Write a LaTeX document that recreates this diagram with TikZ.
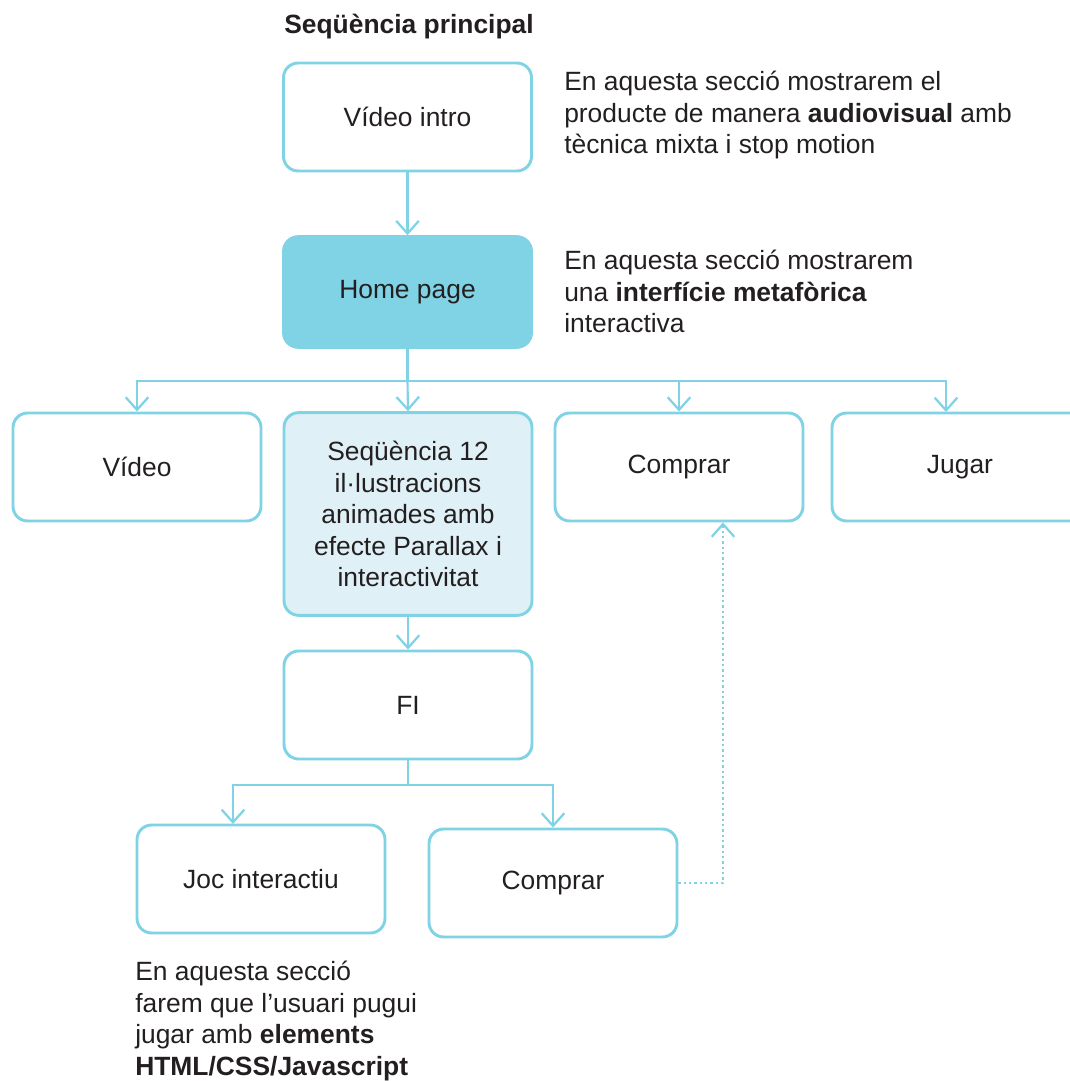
\documentclass[tikz,border=0pt]{standalone}
\usepackage{fontspec}
\setmainfont{Liberation Sans}
\usetikzlibrary{arrows.meta}
\definecolor{cyanline}{HTML}{80D3E4}
\definecolor{palefill}{HTML}{DFF1F7}
\definecolor{ink}{HTML}{231F20}
\begin{document}
\begin{tikzpicture}[x=0.75pt,y=-0.75pt,
  txt/.style={text=ink, font=\fontsize{19.8}{23.6}\selectfont},
  box/.style={txt, draw=cyanline, line width=2.2pt, rounded corners=11pt,
    minimum width=186pt, minimum height=81pt, inner sep=0pt, align=center},
  tip/.style={-{Straight Barb[length=9.5pt,width=17pt,line width=1.7pt]}},
  link/.style={draw=cyanline, line width=1.6pt},
  arrowlink/.style={link, tip},
  dotlink/.style={draw=cyanline, line width=1.8pt, dash pattern=on 1.6pt off 2.4pt, tip},
  note/.style={txt, align=left, inner sep=0pt, anchor=north west}
]
\useasboundingbox (0,0) rectangle (1070,1081);
\clip (0,0) rectangle (1070,1081);

% title
\node[txt, font=\fontsize{19.8}{23.6}\selectfont\bfseries, anchor=base] (title) at (409,34) {Seqüència principal};

% main sequence boxes
\node[box] (intro) at (407.5,117) {Vídeo intro};
\node[box, fill=cyanline, minimum height=83pt] (home) at (407.5,292) {Home page};
\node[box] (vid) at (137,467) {Vídeo};
\node[box, fill=palefill, minimum height=152pt] (seq) at (408,514)
  {Seqüència 12\\il·lustracions\\animades amb\\efecte Parallax i\\interactivitat};
\node[box] (comp) at (679,467) {Comprar};
\node[box, minimum width=192pt] (jugar) at (960,467) {Jugar};
\node[box] (fi) at (408,705) {FI};
\node[box] (joc) at (261,879) {Joc interactiu};
\node[box] (comp2) at (553,883) {Comprar};

% side notes
\node[note] (n1) at (564,71) {En aquesta secció mostrarem el\\producte de manera \textbf{audiovisual} amb\\tècnica mixta i stop motion};
\node[note] (n2) at (564,250) {En aquesta secció mostrarem\\una \textbf{interfície metafòrica}\\interactiva};
\node[note] (n3) at (135,961) {En aquesta secció\\farem que l’usuari pugui\\jugar amb \textbf{elements}\\\textbf{HTML/CSS/Javascript}};

% connectors
\coordinate (hb) at (407.5,381);
\coordinate (fb) at (408,785);
\coordinate (jugarin) at (946,412);
\coordinate (jocin) at (233,824);
\coordinate (dt) at (723,0);

\draw[arrowlink] (intro) -- (home);
\draw[link] (home.south) -- (hb);
\draw[arrowlink] (hb) -| (vid.north);
\draw[arrowlink] (hb) -- (seq.north);
\draw[arrowlink] (hb) -| (comp.north);
\draw[arrowlink] (hb) -| (jugarin);
\draw[arrowlink] (seq) -- (fi);
\draw[link] (fi.south) -- (fb);
\draw[arrowlink] (fb) -| (jocin);
\draw[arrowlink] (fb) -| (comp2.north);
\draw[dotlink] (comp2.east) -| (dt |- comp.south);
\end{tikzpicture}
\end{document}
